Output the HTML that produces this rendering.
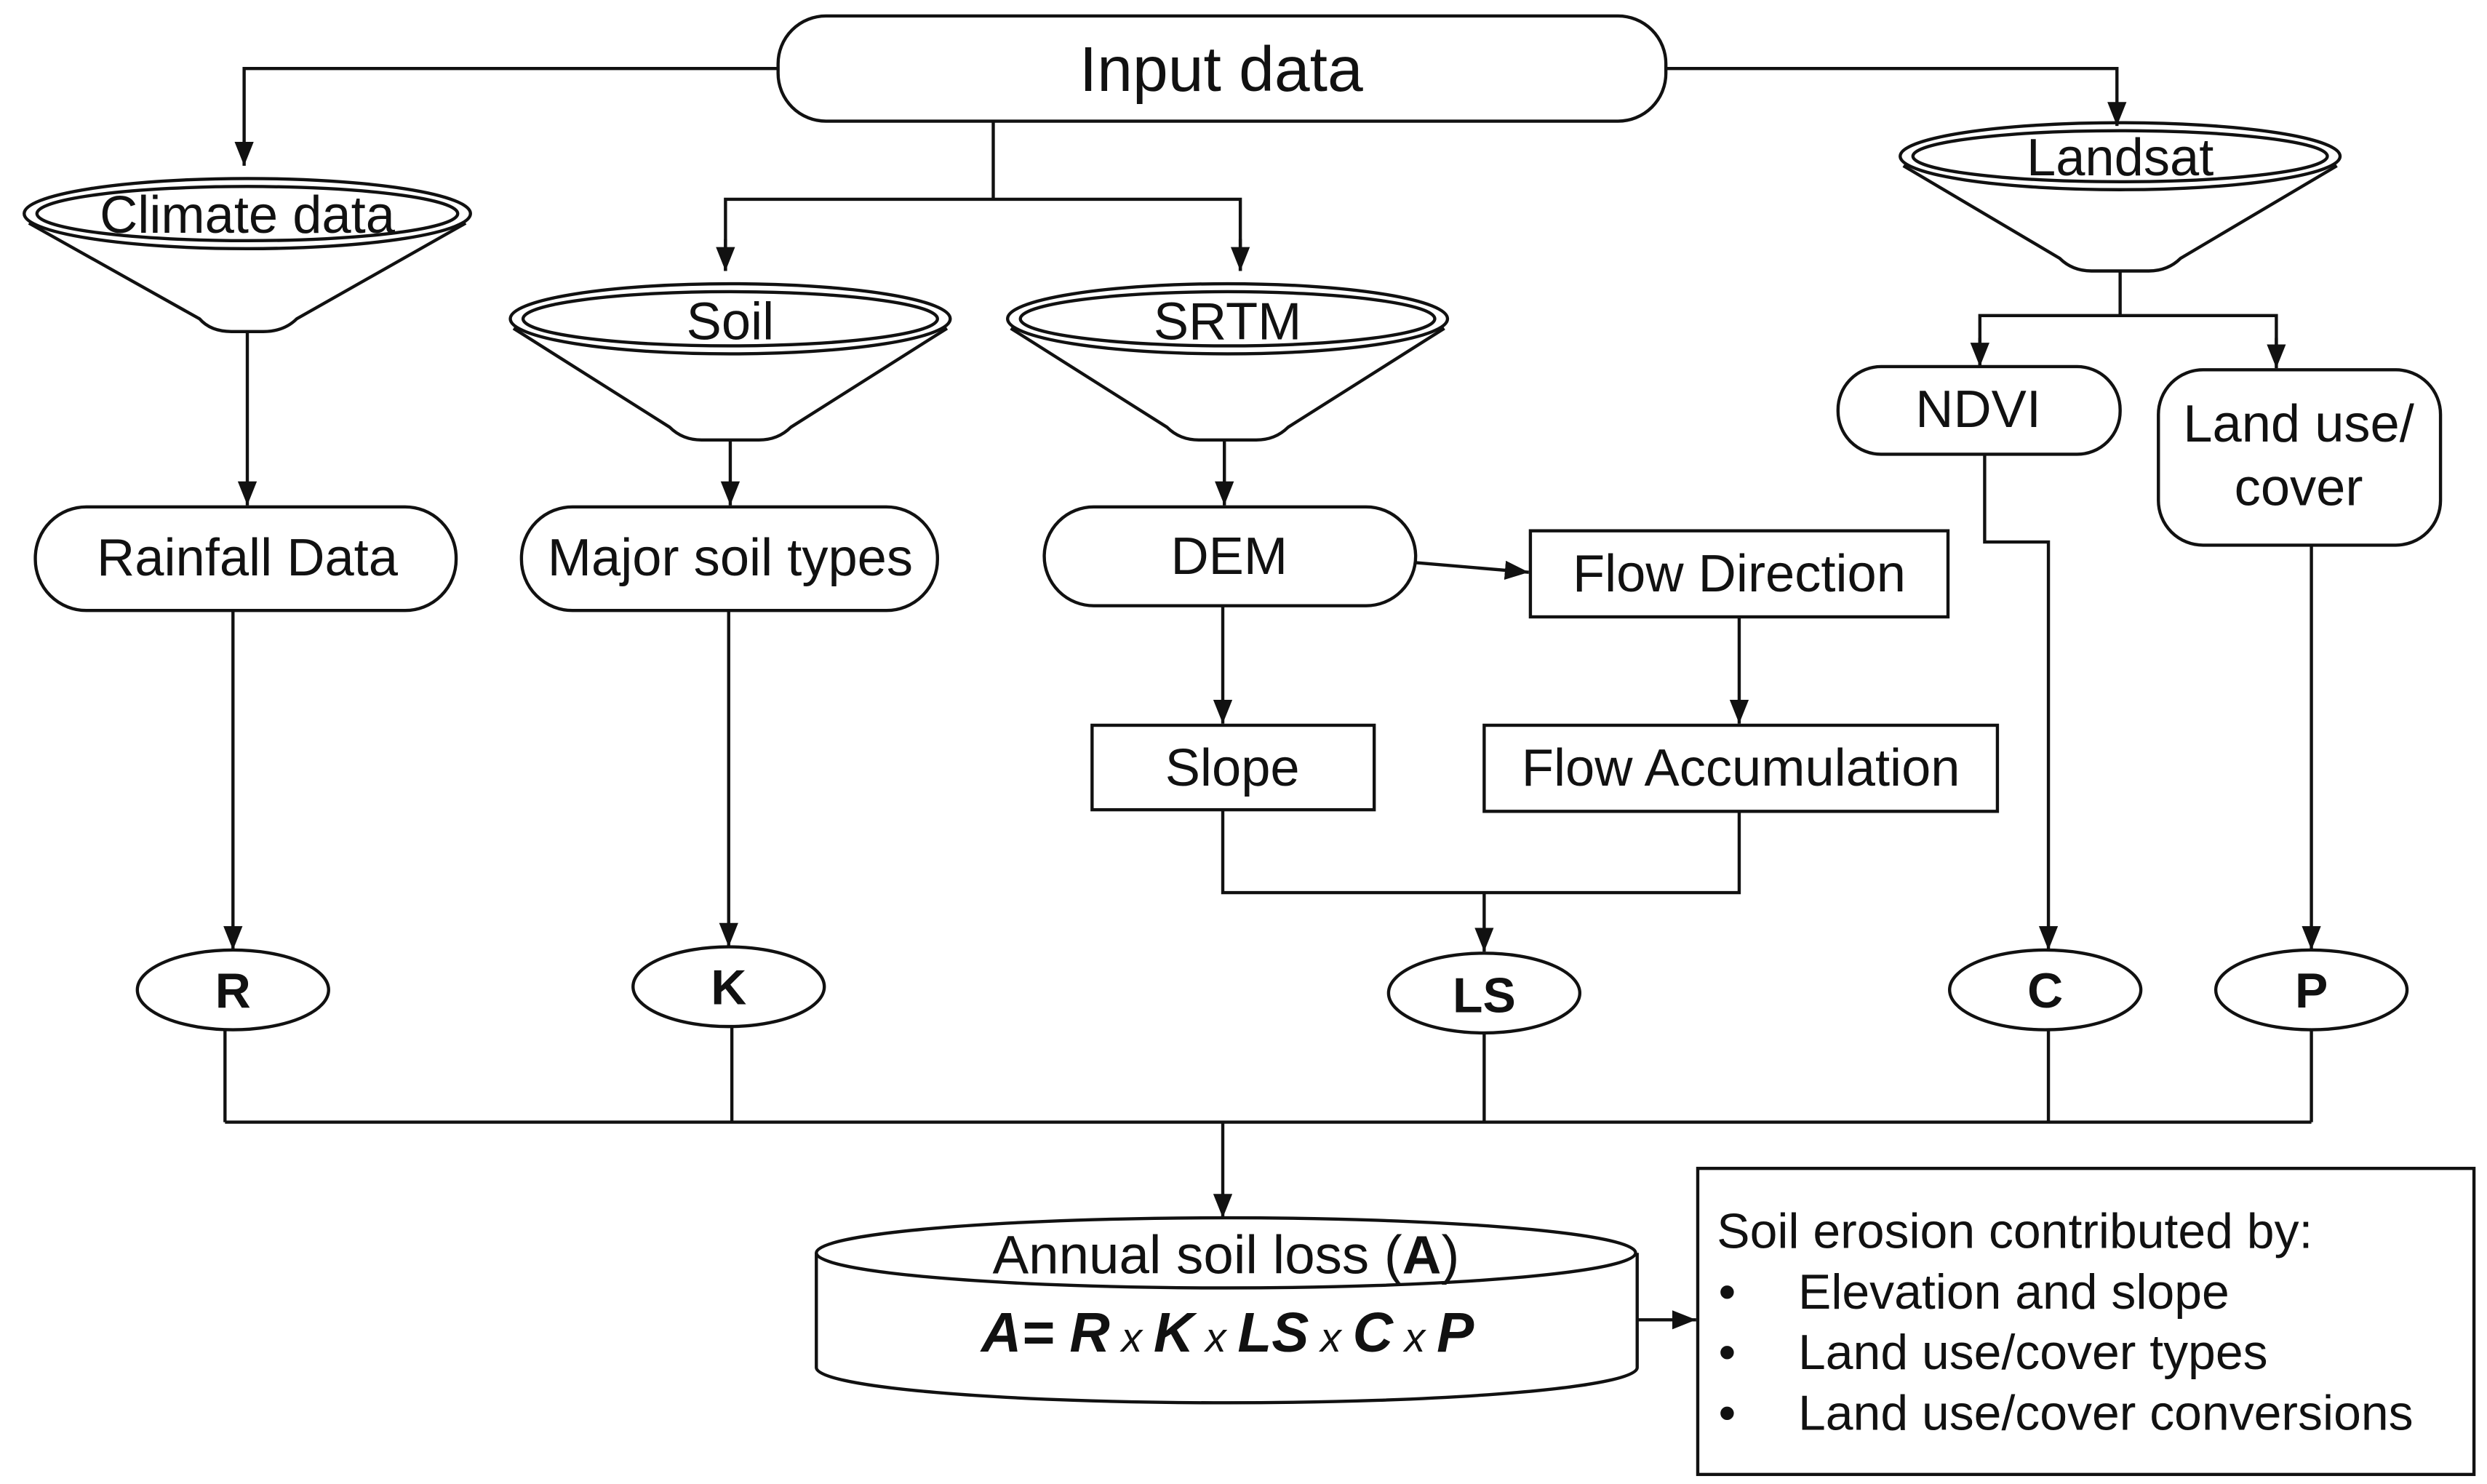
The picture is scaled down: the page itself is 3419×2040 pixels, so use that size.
<!DOCTYPE html>
<html><head><meta charset="utf-8"><style>
html,body{margin:0;padding:0;background:#fff;}
svg{display:block;}
text{font-family:"Liberation Sans",Arial,sans-serif;fill:#111;}
</style></head><body>
<svg width="3419" height="2040" viewBox="0 0 1560 931" xmlns="http://www.w3.org/2000/svg">
<defs>
<marker id="b" markerWidth="16" markerHeight="16" refX="15" refY="6" orient="auto" markerUnits="userSpaceOnUse">
<path d="M0,0 L15,6 L0,12 z" fill="#111"/></marker>
</defs>
<g fill="none" stroke="#111" stroke-width="2">
<rect x="488" y="10" width="557" height="66" rx="30" fill="#fff"/>
<polyline points="488,43 153,43 153,104" marker-end="url(#b)"/>
<polyline points="1045,43 1328,43 1328,79" marker-end="url(#b)"/>
<line x1="623" y1="76" x2="623" y2="125"/>
<polyline points="455,170 455,125 778,125 778,170"/>
<line x1="455" y1="150" x2="455" y2="170" marker-end="url(#b)"/>
<line x1="778" y1="150" x2="778" y2="170" marker-end="url(#b)"/>

<path d="M18,140 L125,200 Q132,208 145,208 L165,208 Q178,208 186,200 L292,140"/>
<ellipse cx="155" cy="134" rx="140" ry="22"/>
<ellipse cx="155" cy="134" rx="132" ry="17"/>
<path d="M322,206 L420,268 Q428,276 440,276 L476,276 Q488,276 496,268 L594,206"/>
<ellipse cx="458" cy="200" rx="138" ry="22"/>
<ellipse cx="458" cy="200" rx="130" ry="17"/>
<path d="M634,206 L732,268 Q740,276 752,276 L788,276 Q800,276 808,268 L906,206"/>
<ellipse cx="770" cy="200" rx="138" ry="22"/>
<ellipse cx="770" cy="200" rx="130" ry="17"/>
<path d="M1194,104 L1292,162 Q1300,170 1312,170 L1348,170 Q1360,170 1368,162 L1466,104"/>
<ellipse cx="1330" cy="98" rx="138" ry="21"/>
<ellipse cx="1330" cy="98" rx="130" ry="16"/>

<line x1="155" y1="208" x2="155" y2="317" marker-end="url(#b)"/>
<line x1="458" y1="276" x2="458" y2="317" marker-end="url(#b)"/>
<line x1="768" y1="276" x2="768" y2="317" marker-end="url(#b)"/>

<rect x="22" y="318" width="264" height="65" rx="32"/>
<rect x="327" y="318" width="261" height="65" rx="32"/>
<rect x="655" y="318" width="233" height="62" rx="31"/>
<line x1="888" y1="353" x2="959" y2="359" marker-end="url(#b)"/>
<rect x="960" y="333" width="262" height="54"/>
<line x1="1091" y1="387" x2="1091" y2="454" marker-end="url(#b)"/>
<rect x="931" y="455" width="322" height="54"/>
<line x1="767" y1="380" x2="767" y2="454" marker-end="url(#b)"/>
<rect x="685" y="455" width="177" height="53"/>
<polyline points="767,508 767,560 1091,560 1091,509"/>
<line x1="931" y1="560" x2="931" y2="597" marker-end="url(#b)"/>

<line x1="1330" y1="170" x2="1330" y2="198"/>
<polyline points="1242,229 1242,198 1428,198 1428,229"/>
<line x1="1242" y1="212" x2="1242" y2="230" marker-end="url(#b)"/>
<line x1="1428" y1="212" x2="1428" y2="231" marker-end="url(#b)"/>
<rect x="1153" y="230" width="177" height="55" rx="27"/>
<rect x="1354" y="232" width="177" height="110" rx="28"/>
<polyline points="1245,285 1245,340 1285,340 1285,596" marker-end="url(#b)"/>
<line x1="1450" y1="342" x2="1450" y2="596" marker-end="url(#b)"/>

<line x1="146" y1="383" x2="146" y2="596" marker-end="url(#b)"/>
<line x1="457" y1="383" x2="457" y2="594" marker-end="url(#b)"/>

<ellipse cx="146" cy="621" rx="60" ry="25"/>
<ellipse cx="457" cy="619" rx="60" ry="25"/>
<ellipse cx="931" cy="623" rx="60" ry="25"/>
<ellipse cx="1283" cy="621" rx="60" ry="25"/>
<ellipse cx="1450" cy="621" rx="60" ry="25"/>

<line x1="141" y1="646" x2="141" y2="704"/>
<line x1="459" y1="644" x2="459" y2="704"/>
<line x1="931" y1="648" x2="931" y2="704"/>
<line x1="1285" y1="646" x2="1285" y2="704"/>
<line x1="1450" y1="646" x2="1450" y2="704"/>
<line x1="141" y1="704" x2="1450" y2="704"/>
<line x1="767" y1="704" x2="767" y2="764" marker-end="url(#b)"/>

<path d="M512,786 L512,858 A257,22 0 0 0 1027,858 L1027,786"/>
<ellipse cx="769" cy="786" rx="257" ry="22"/>
<line x1="1027" y1="828" x2="1064" y2="828" marker-end="url(#b)"/>
<rect x="1065" y="733" width="487" height="192"/>
</g>

<g font-size="40" text-anchor="middle">
<text x="766" y="57">Input data</text>
</g>
<g font-size="33" text-anchor="middle">
<text x="155" y="146">Climate data</text>
<text x="458" y="213">Soil</text>
<text x="770" y="213">SRTM</text>
<text x="1330" y="110">Landsat</text>
<text x="155" y="361">Rainfall Data</text>
<text x="458" y="361">Major soil types</text>
<text x="771" y="360">DEM</text>
<text x="1091" y="371">Flow Direction</text>
<text x="1092" y="493">Flow Accumulation</text>
<text x="773" y="493">Slope</text>
<text x="1241" y="268">NDVI</text>
<text x="1442" y="277">Land use/</text>
<text x="1442" y="317">cover</text>
<text x="769" y="799" font-size="34">Annual soil loss (<tspan font-weight="bold">A</tspan>)</text>
<text x="770" y="848" font-size="35" font-style="italic"><tspan font-weight="bold">A= R</tspan><tspan font-size="26"> x </tspan><tspan font-weight="bold">K</tspan><tspan font-size="26"> x </tspan><tspan font-weight="bold">LS</tspan><tspan font-size="26"> x </tspan><tspan font-weight="bold">C</tspan><tspan font-size="26"> x </tspan><tspan font-weight="bold">P</tspan></text>
</g>
<g font-size="31" font-weight="bold" text-anchor="middle">
<text x="146" y="632">R</text>
<text x="457" y="630">K</text>
<text x="931" y="635">LS</text>
<text x="1283" y="632">C</text>
<text x="1450" y="632">P</text>
</g>
<g font-size="31">
<text x="1077" y="783">Soil erosion contributed by:</text>
<text x="1078" y="821">•</text><text x="1128" y="821">Elevation and slope</text>
<text x="1078" y="859">•</text><text x="1128" y="859">Land use/cover types</text>
<text x="1078" y="897">•</text><text x="1128" y="897">Land use/cover conversions</text>
</g>
</svg>
</body></html>
